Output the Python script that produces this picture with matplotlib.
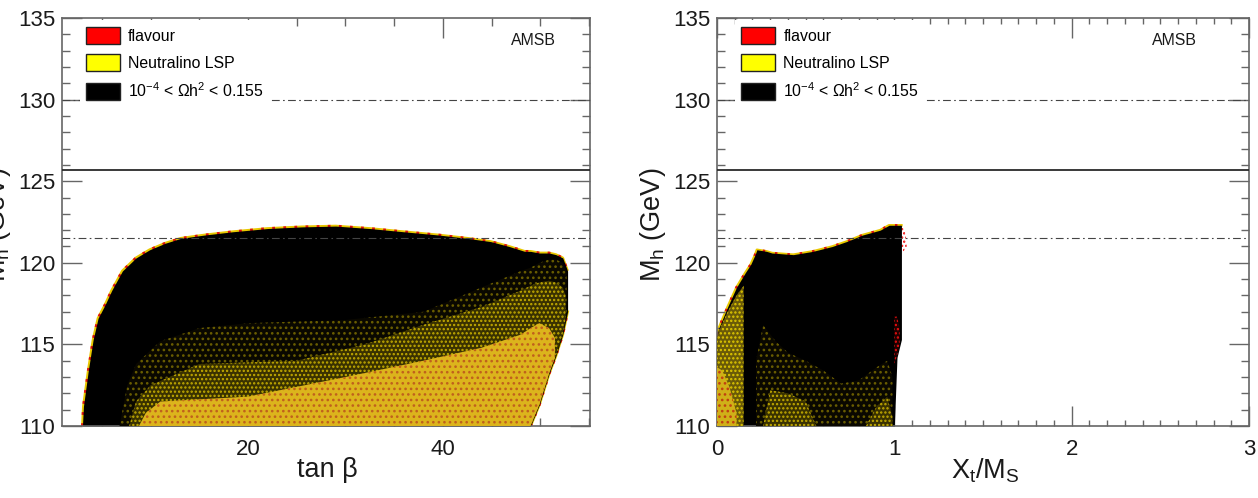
import matplotlib
matplotlib.use('Agg')
import matplotlib.pyplot as plt
from matplotlib.patches import Patch
from matplotlib.ticker import MultipleLocator

plt.rcParams['font.family'] = ['Liberation Sans', 'DejaVu Sans']
plt.rcParams['mathtext.fontset'] = 'custom'
plt.rcParams['mathtext.rm'] = 'Liberation Sans'
plt.rcParams['mathtext.it'] = 'Liberation Sans:italic'
plt.rcParams['mathtext.bf'] = 'Liberation Sans:bold'
plt.rcParams['hatch.linewidth'] = 1.1

# ---------------- data (envelopes of the scanned point clouds) ----------------
# reference lines (GeV)
mh_central = 125.7
mh_dashdot = [130.0, 121.5]

# left panel: tan(beta) vs Mh -- overall allowed region
tanb_x   = [3.0, 3.1, 3.6, 4.1, 4.6, 5.3, 6.0, 7.1, 8.5, 9.9, 11.5, 13.1, 15.5, 18.4, 22.0,
            25.5, 29.0, 32.5, 36.0, 39.6, 42.5, 44.9, 46.8, 48.4, 49.0, 49.9, 50.9, 51.6, 52.3, 52.8]
tanb_top = [110.0, 111.2, 113.4, 115.3, 116.6, 117.4, 118.3, 119.5, 120.3, 120.8, 121.2, 121.5, 121.7, 121.9, 122.1,
            122.2, 122.25, 122.1, 121.9, 121.7, 121.5, 121.3, 121.0, 120.7, 120.7, 120.6, 120.6, 120.5, 120.3, 119.5]
tanb_bot = [110.0] * 25 + [111.3, 113.2, 114.3, 115.6, 117.0]

# left panel: sparse / medium / dense Neutralino-LSP speckle zones
bandA_x   = [6.8, 7.6, 8.5, 11.0, 15.0, 20.0, 30.0, 38.0, 44.0, 48.0, 49.0, 49.9, 50.9, 51.6, 52.3, 52.7]
bandA_top = [110.0, 112.5, 113.8, 115.2, 116.0, 116.3, 116.5, 117.0, 118.5, 119.5, 119.7, 120.0, 120.2, 120.2, 120.0, 119.4]
bandA_bot = [110.0] * 11 + [111.3, 113.2, 114.3, 115.6, 116.8]

bandB_x   = [7.8, 8.5, 10.0, 15.0, 25.0, 32.0, 38.0, 44.0, 48.0, 49.0, 49.9, 50.9, 51.6, 52.3, 52.6]
bandB_top = [110.0, 111.5, 112.5, 113.8, 114.0, 115.0, 116.2, 117.3, 118.3, 118.6, 118.8, 118.9, 118.8, 118.5, 118.0]
bandB_bot = [110.0] * 10 + [111.3, 113.2, 114.3, 115.6, 116.6]

bandC_x   = [8.8, 9.5, 11.0, 20.0, 30.0, 38.0, 44.0, 48.0, 49.0, 49.9, 50.9, 51.5]
bandC_top = [110.0, 110.8, 111.5, 111.8, 113.0, 114.0, 114.8, 115.6, 116.0, 116.3, 116.0, 115.4]
bandC_bot = [110.0] * 9 + [111.3, 113.2, 114.2]

# right panel: Xt/MS vs Mh -- overall allowed region
xt_x   = [0.0, 0.01, 0.06, 0.11, 0.16, 0.19, 0.215, 0.225, 0.28, 0.31, 0.43, 0.54, 0.65, 0.73,
          0.82, 0.92, 0.97, 1.0, 1.015, 1.04]
xt_top = [115.6, 116.0, 117.3, 118.5, 119.4, 119.9, 120.5, 120.8, 120.7, 120.6, 120.5, 120.7, 121.0, 121.3,
          121.7, 122.0, 122.3, 122.3, 122.3, 122.3]
xt_bot = [110.0] * 18 + [114.2, 115.3]

# right panel: speckle zones
stripA_x   = [0.0, 0.01, 0.06, 0.11, 0.15]
stripA_top = [115.4, 115.8, 117.0, 118.0, 118.6]
stripB_x   = [0.0, 0.03, 0.07, 0.11]
stripB_top = [113.6, 113.4, 112.4, 110.8]
blkA_x   = [0.22, 0.26, 0.33, 0.40, 0.50, 0.60, 0.70, 0.80, 0.90, 0.96, 0.99]
blkA_top = [114.0, 116.2, 115.2, 114.5, 114.0, 113.4, 112.6, 112.8, 113.6, 114.0, 113.0]
blkB_x   = [0.26, 0.30, 0.40, 0.50, 0.56]
blkB_top = [110.0, 112.2, 112.0, 111.5, 110.0]
blkB2_x   = [0.84, 0.90, 0.96, 0.99]
blkB2_top = [110.0, 111.2, 111.8, 110.5]
red_x   = [1.035, 1.05, 1.06, 1.07]
red_top = [122.3, 122.2, 121.9, 121.2]
red_bot = [120.7, 120.6, 120.9, 121.0]
red2_x   = [1.0, 1.015, 1.03]
red2_top = [116.7, 116.7, 116.0]
red2_bot = [113.8, 114.3, 115.0]

legend_labels = ['flavour', 'Neutralino LSP', r'$\mathregular{10^{-4}}$ < Ωh$\mathregular{^{2}}$ < 0.155']
legend_colors = ['#ff0000', '#ffff00', '#000000']

# ---------------- styling ----------------
SPINE = '#666666'
TXT = '#1a1a1a'

fig = plt.figure(figsize=(12.58, 4.98), dpi=100)
axL = fig.add_axes([62 / 1258, 72 / 498, 528 / 1258, 408 / 498])
axR = fig.add_axes([717 / 1258, 72 / 498, 532 / 1258, 408 / 498])


def speckle(ax, x, lo, hi, face, dots, hatch, z):
    ax.fill_between(x, lo, hi, facecolor=face, edgecolor=dots, hatch=hatch, lw=0, zorder=z)


def style_axes(ax, xmaj, xmin, xminlen):
    ax.set_ylim(110, 135)
    ax.yaxis.set_major_locator(MultipleLocator(5))
    ax.yaxis.set_minor_locator(MultipleLocator(1))
    ax.xaxis.set_major_locator(MultipleLocator(xmaj))
    ax.xaxis.set_minor_locator(MultipleLocator(xmin))
    for s in ax.spines.values():
        s.set_color(SPINE)
        s.set_linewidth(1.2)
    ax.tick_params(which='both', direction='in', top=True, right=True, color=SPINE, width=1.0)
    ax.tick_params(which='major', length=14.5, labelsize=16, labelcolor=TXT)
    ax.tick_params(axis='y', which='major', pad=5)
    ax.tick_params(axis='x', which='major', pad=9)
    ax.tick_params(axis='y', which='minor', length=6)
    ax.tick_params(axis='x', which='minor', length=xminlen)
    ax.set_ylabel(r'$\mathregular{M_{h}}$ (GeV)', fontsize=19.5, color=TXT)
    ax.yaxis.set_label_coords(-0.093, 0.493)
    ax.axhline(mh_central, color='#2a2a2a', lw=1.3, zorder=5)
    for v in mh_dashdot:
        ax.axhline(v, color='#444444', lw=0.8, dashes=[7, 3, 1.5, 3], zorder=5)
    handles = [Patch(facecolor=c, edgecolor='#222222', linewidth=1.0) for c in legend_colors]
    leg = ax.legend(handles, legend_labels, loc='upper left', fontsize=11.4,
                    bbox_to_anchor=(0.034, 0.994), borderaxespad=0, borderpad=0.4,
                    handlelength=2.15, handleheight=1.33, handletextpad=0.5,
                    labelspacing=0.6, frameon=True, fancybox=False)
    leg.get_frame().set_facecolor('white')
    leg.get_frame().set_edgecolor('none')
    leg.get_frame().set_alpha(1.0)
    leg.set_zorder(10)


# ---- left panel ----
axL.set_xlim(0.9, 55.1)
axL.plot(tanb_x, tanb_top, color='#e8c800', lw=2.0, zorder=1, solid_capstyle='butt')
axL.plot(tanb_x, tanb_top, color='#e01010', lw=2.0, ls=(0, (1, 3)), zorder=1.1)
axL.plot(tanb_x[24:], tanb_bot[24:], color='#e8c800', lw=2.0, zorder=1)
axL.plot(tanb_x[24:], tanb_bot[24:], color='#e01010', lw=2.0, ls=(0, (1, 3)), zorder=1.1)
axL.fill_between(tanb_x, tanb_bot, tanb_top, color='black', lw=0, zorder=2)
speckle(axL, bandA_x, bandA_bot, bandA_top, '#0a0800', '#6a5e00', '...', 3)
speckle(axL, bandB_x, bandB_bot, bandB_top, '#3a3200', '#c4ac00', '....', 3.1)
speckle(axL, bandC_x, bandC_bot, bandC_top, '#dcb41c', '#c0601c', '...', 3.2)

style_axes(axL, 20, 5, 6)
axL.set_xlabel('tan β', fontsize=19.5, color=TXT)
axL.xaxis.set_label_coords(0.502, -0.075)
axL.text(0.936, 0.946, 'AMSB', transform=axL.transAxes, ha='right', va='center',
         fontsize=11.4, color=TXT, zorder=11)

# ---- right panel ----
axR.set_xlim(0, 3)
axR.plot(xt_x, xt_top, color='#e8c800', lw=1.8, zorder=1)
axR.plot(xt_x, xt_top, color='#e01010', lw=1.8, ls=(0, (1, 4)), zorder=1.1)
speckle(axR, red_x, red_bot, red_top, 'none', '#ee1010', '....', 1.5)
axR.fill_between(xt_x, xt_bot, xt_top, color='black', lw=0, zorder=2)
speckle(axR, stripA_x, [110.0] * len(stripA_x), stripA_top, '#6a5a08', '#e0c800', '....', 3)
speckle(axR, stripB_x, [110.0] * len(stripB_x), stripB_top, '#d0b018', '#c04010', '...', 3.1)
speckle(axR, blkA_x, [110.0] * len(blkA_x), blkA_top, '#0a0800', '#6a5e00', '...', 3)
speckle(axR, blkB_x, [110.0] * len(blkB_x), blkB_top, '#3a3200', '#c4ac00', '....', 3.1)
speckle(axR, blkB2_x, [110.0] * len(blkB2_x), blkB2_top, '#3a3200', '#c4ac00', '....', 3.1)
speckle(axR, red2_x, red2_bot, red2_top, '#200000', '#ee1010', '....', 3.2)
style_axes(axR, 1, 0.1, 4.5)
axR.set_xlabel(r'$\mathregular{X_{t}/M_{S}}$', fontsize=19.5, color=TXT)
axR.xaxis.set_label_coords(0.504, -0.075)
axR.text(0.902, 0.946, 'AMSB', transform=axR.transAxes, ha='right', va='center',
         fontsize=11.4, color=TXT, zorder=11)

fig.savefig('out.png', dpi=100)
